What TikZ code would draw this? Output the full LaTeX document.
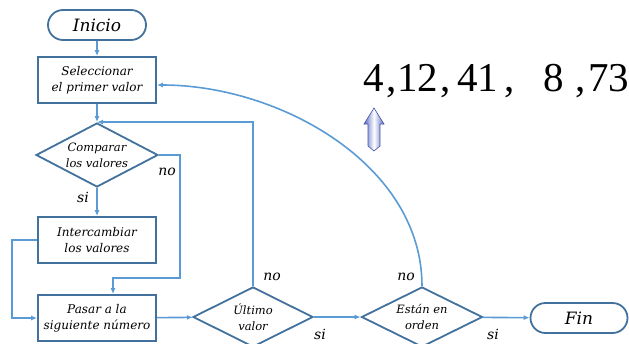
\documentclass[tikz,border=0pt]{standalone}
\usepackage{fontspec}
\setmainfont{DejaVu Serif}
\newfontfamily\numfont{Liberation Serif}
\usetikzlibrary{shapes.geometric,shapes.misc,arrows.meta}
\definecolor{shapeblue}{HTML}{41719C}
\definecolor{linkblue}{HTML}{5B9BD5}
\definecolor{arrowblue}{HTML}{5A6CC8}
\begin{document}
\begin{tikzpicture}[x=1pt,y=-1pt,
  box/.style={draw=shapeblue,line width=1.8pt,rectangle,minimum width=118pt,minimum height=46pt,align=center,inner sep=0pt,font=\itshape\fontsize{12}{16}\selectfont},
  term/.style={draw=shapeblue,line width=1.8pt,rounded rectangle,minimum width=98pt,minimum height=30pt,inner sep=0pt,font=\itshape\fontsize{17}{20}\selectfont},
  dec/.style={draw=shapeblue,line width=1.8pt,diamond,aspect=2,inner sep=0pt,align=center,font=\itshape\fontsize{11.5}{16}\selectfont},
  link/.style={draw=linkblue,line width=1.6pt,-{Latex[length=6pt,width=5pt]}},
  lab/.style={font=\itshape\fontsize{14}{16}\selectfont,inner sep=0pt},
  num/.style={font=\numfont\fontsize{41}{44}\selectfont,anchor=base west,inner sep=0pt}]
\useasboundingbox (0,0) rectangle (629,343);
\clip (0,0) rectangle (629,343);

\node[term] (ini) at (97,25) {Inicio};
\node[box] (sel) at (97,80) {Seleccionar\\el primer valor};
\node[dec,minimum width=122pt,minimum height=64pt] (cmp) at (97,155) {Comparar\\los valores};
\node[box] (int) at (97,240) {Intercambiar\\los valores};
\node[box] (pas) at (97,318) {Pasar a la\\siguiente número};
\node[dec,minimum width=120pt,minimum height=60pt] (ult) at (253,317) {Último\\valor};
\node[dec,minimum width=121pt,minimum height=60pt] (est) at (422,317) {Están en\\orden};
\node[term,minimum width=97pt] (fin) at (579,318) {Fin};

\coordinate (c1) at (180,278);
\coordinate (c2) at (12,240);

\draw[link] (ini) -- (sel);
\draw[link] (sel) -- (cmp);
\draw[link] (cmp) -- (int);
\draw[link] (cmp.east) -| (c1) -| ([xshift=16pt]pas.north);
\draw[link] (int.west) -- (c2) |- (pas.west);
\draw[link] (pas) -- (ult);
\draw[link] (ult.north) |- (cmp.north);
\draw[link] (ult) -- (est);
\draw[link] (est) -- (fin);
\draw[link] (est.north) .. controls (422,165) and (280,85) .. ([yshift=-5pt]sel.east);

\node[lab] (l1) at (83,197) {si};
\node[lab] (l2) at (167,172) {no};
\node[lab] (l3) at (272,277) {no};
\node[lab] (l4) at (320,334) {si};
\node[lab] (l5) at (406,277) {no};
\node[lab] (l6) at (493,334) {si};

\node[num] (n1) at (363,91) {4};
\node[num] (n2) at (386,91) {,};
\node[num] (n3) at (397,91) {12};
\node[num] (n4) at (440,91) {,};
\node[num] (n5) at (457,91) {41};
\node[num] (n6) at (504,91) {,};
\node[num] (n7) at (543,91) {8};
\node[num] (n8) at (575,91) {,};
\node[num] (n9) at (588,91) {73};

\path[draw=arrowblue!80!black,line width=0.6pt,left color=arrowblue,right color=arrowblue,middle color=white]
  (374,108) -- (384,124) -- (380,124) -- (380,146) -- (374,151) -- (368,146) -- (368,124) -- (364,124) -- cycle;
\end{tikzpicture}
\end{document}
